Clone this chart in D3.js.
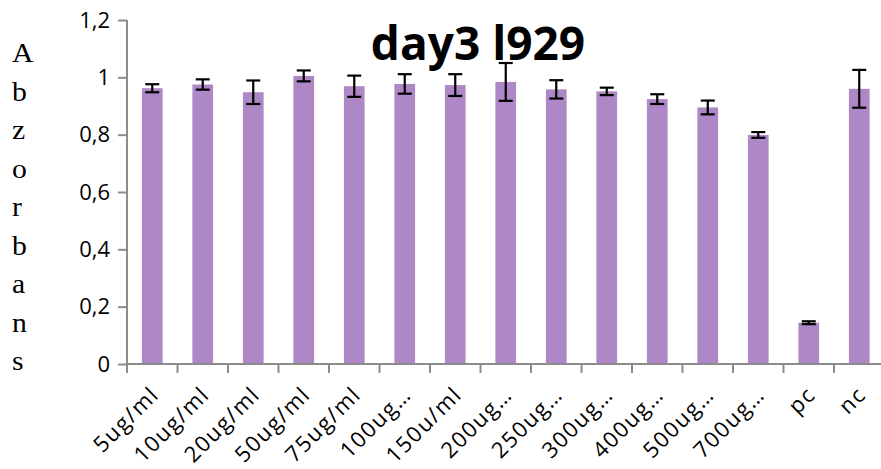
<!DOCTYPE html>
<html>
<head>
<meta charset="utf-8">
<script src="https://cdn.jsdelivr.net/npm/d3@7"></script>
<style>
  body { margin: 0; background: #fff; }
  text { font-family: "Open Sans", sans-serif; }
</style>
</head>
<body>
<div id="chart"></div>
<script>
// Data
const categories = ["5ug/ml", "10ug/ml", "20ug/ml", "50ug/ml", "75ug/ml", "100ug…", "150u/ml",
                    "200ug…", "250ug…", "300ug…", "400ug…", "500ug…", "700ug…", "pc", "nc"];
const means = [0.962, 0.975, 0.948, 1.005, 0.969, 0.977, 0.973, 0.984, 0.958, 0.951, 0.924, 0.895, 0.799, 0.144, 0.960];
const errors = [0.014, 0.018, 0.041, 0.019, 0.037, 0.034, 0.038, 0.066, 0.032, 0.013, 0.017, 0.024, 0.010, 0.005, 0.066];
const yTicks = [0, 0.2, 0.4, 0.6, 0.8, 1, 1.2];
const yTitle = "Abzorbans";
const title = "day3 l929";

const rows = categories.map((c, i) => ({cat: c, v: means[i], e: errors[i]}));

const W = 881, H = 469;
const plot = {left: 127, top: 20, bottom: 364, right: 884.5};
const axisColor = "#8c8c8c";
const barColor = "#ad87c6";

const svg = d3.select("#chart").append("svg")
    .attr("width", W)
    .attr("height", H);

// Scales
const x = d3.scaleBand().domain(categories).range([plot.left, plot.right]).padding(0);
const y = d3.scaleLinear().domain([0, 1.2]).range([plot.bottom, plot.top]);
const barW = x.bandwidth() * 0.41;
const fmt = d => String(+d.toFixed(1)).replace(".", ",");

// Y axis
const yAxis = svg.append("g")
    .attr("transform", "translate(" + plot.left + ",0)")
    .call(d3.axisLeft(y).tickValues(yTicks).tickFormat(fmt).tickSize(9).tickPadding(8));
yAxis.select(".domain").attr("stroke", axisColor).attr("stroke-width", 2)
    .attr("d", "M0," + plot.top + "V" + plot.bottom);
yAxis.selectAll(".tick line").attr("stroke", axisColor).attr("stroke-width", 2);
yAxis.selectAll(".tick text")
    .attr("fill", "#000")
    .style("font-size", "22px")
    .style("font-family", "'Open Sans', sans-serif");

// Bars
svg.append("g").selectAll("rect")
    .data(rows)
    .join("rect")
    .attr("x", d => x(d.cat) + (x.bandwidth() - barW) / 2)
    .attr("width", barW)
    .attr("y", d => y(d.v))
    .attr("height", d => y(0) - y(d.v))
    .attr("fill", barColor);

// X axis line + tick marks at category boundaries
svg.append("line")
    .attr("x1", plot.left).attr("x2", W)
    .attr("y1", y(0)).attr("y2", y(0))
    .attr("stroke", axisColor).attr("stroke-width", 2);
svg.append("g").selectAll("line")
    .data(categories)
    .join("line")
    .attr("x1", d => x(d)).attr("x2", d => x(d))
    .attr("y1", y(0)).attr("y2", y(0) + 9)
    .attr("stroke", axisColor).attr("stroke-width", 2);

// Rotated category labels
svg.append("g").selectAll("text")
    .data(categories)
    .join("text")
    .attr("transform", d => "translate(" + (x(d) + x.bandwidth() / 2 + 8) + "," + (y(0) + 32) + ") rotate(-45)")
    .attr("text-anchor", "end")
    .style("font-size", "22px")
    .style("letter-spacing", "1.6px")
    .text(d => d);

// Error bars
const err = svg.append("g").attr("stroke", "#000").attr("stroke-width", 2.2);
const cx = d => x(d.cat) + x.bandwidth() / 2;
err.selectAll(".stem")
    .data(rows)
    .join("line")
    .attr("class", "stem")
    .attr("x1", cx).attr("x2", cx)
    .attr("y1", d => y(d.v + d.e)).attr("y2", d => y(d.v - d.e));
err.selectAll(".capTop")
    .data(rows)
    .join("line")
    .attr("class", "capTop")
    .attr("x1", d => cx(d) - 7).attr("x2", d => cx(d) + 7)
    .attr("y1", d => y(d.v + d.e)).attr("y2", d => y(d.v + d.e));
err.selectAll(".capBot")
    .data(rows)
    .join("line")
    .attr("class", "capBot")
    .attr("x1", d => cx(d) - 7).attr("x2", d => cx(d) + 7)
    .attr("y1", d => y(d.v - d.e)).attr("y2", d => y(d.v - d.e));

// Title
svg.append("text")
    .attr("x", 478)
    .attr("y", 60)
    .attr("text-anchor", "middle")
    .style("font-size", "46px")
    .style("font-weight", "bold")
    .text(title);

// Vertical y-axis title, one letter per line (slightly stretched like the original)
svg.append("g").selectAll("text")
    .data(yTitle.split(""))
    .join("text")
    .attr("transform", (d, i) => "translate(12," + (62 + i * 38.5) + ") scale(1.1,1)")
    .style("font-family", "'Liberation Serif', serif")
    .style("font-size", "27px")
    .text(d => d);
</script>
</body>
</html>
